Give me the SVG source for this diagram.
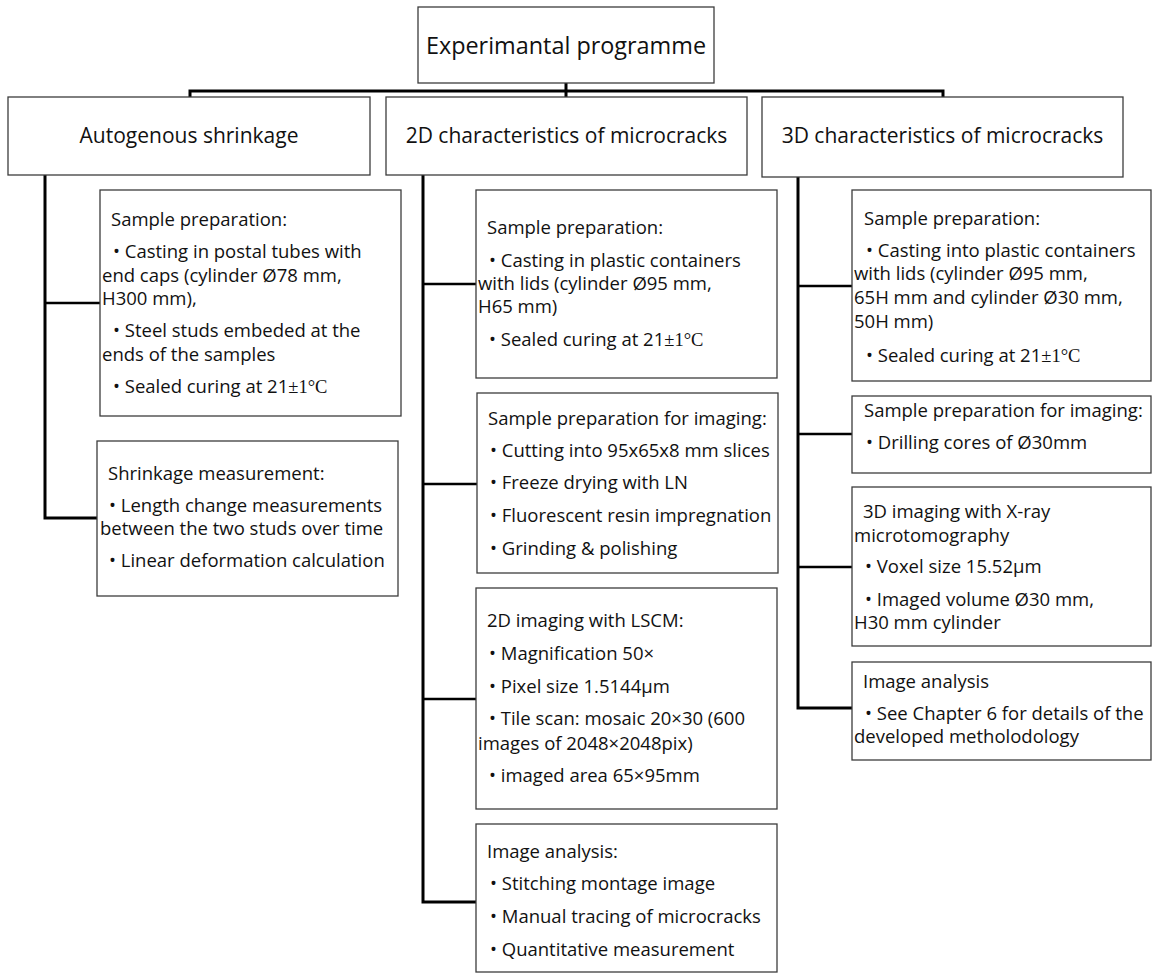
<svg xmlns="http://www.w3.org/2000/svg" width="1153" height="976" viewBox="0 0 1153 976">
<style>
.box{fill:#fff;stroke:#3c3c3c;stroke-width:1.3}
.t{font-family:"Open Sans","Liberation Sans",sans-serif;font-size:18.5px;fill:#111}
.h{font-family:"Open Sans","Liberation Sans",sans-serif;font-size:21px;fill:#111;text-anchor:middle}
.ti{font-family:"Open Sans","Liberation Sans",sans-serif;font-size:23.4px;fill:#111;text-anchor:middle}
.s{font-family:"Liberation Serif",serif}
.c{fill:none;stroke:#000;stroke-width:3}
.b{fill:none;stroke:#000;stroke-width:2.5}
</style>
<rect width="1153" height="976" fill="#fff"/>
<g id="connectors">
<path class="c" d="M566 83V97M190 97V91H943V97"/>
<path class="c" d="M45 175V518H97"/>
<path class="b" d="M45 303H100"/>
<path class="c" d="M423 175V902H476"/>
<path class="b" d="M423 284H476M423 484H477M423 699H476"/>
<path class="c" d="M798 177V708H852"/>
<path class="b" d="M798 286H852M798 434H852M798 567H852"/>
</g>
<g id="root"><rect class="box" x="418" y="7" width="296" height="76"/><text class="ti" x="566" y="54">Experimantal programme</text></g>
<g id="autogenous"><rect class="box" x="8" y="97" width="362" height="78"/><text class="h" x="189" y="143">Autogenous shrinkage</text></g>
<g id="char2d"><rect class="box" x="386" y="97" width="361" height="78"/><text class="h" x="566.5" y="143">2D characteristics of microcracks</text></g>
<g id="char3d"><rect class="box" x="762" y="97" width="361" height="80"/><text class="h" x="942.5" y="143">3D characteristics of microcracks</text></g>
<g id="a1"><rect class="box" x="100" y="190" width="301" height="226"/>
<text class="t" x="111" y="226">Sample preparation:</text>
<text class="t" x="113" y="258">• Casting in postal tubes with</text>
<text class="t" x="102" y="282">end caps (cylinder Ø78 mm,</text>
<text class="t" x="102" y="305">H300 mm),</text>
<text class="t" x="113" y="337">• Steel studs embeded at the</text>
<text class="t" x="102" y="361">ends of the samples</text>
<text class="t" x="113" y="393">• Sealed curing at 21<tspan class="s">±1°C</tspan></text>
</g>
<g id="a2"><rect class="box" x="97" y="441" width="301" height="155"/>
<text class="t" x="108" y="480">Shrinkage measurement:</text>
<text class="t" x="109" y="512">• Length change measurements</text>
<text class="t" x="100" y="535">between the two studs over time</text>
<text class="t" x="109" y="567">• Linear deformation calculation</text>
</g>
<g id="b1"><rect class="box" x="476" y="190" width="301" height="188"/>
<text class="t" x="487" y="234">Sample preparation:</text>
<text class="t" x="489" y="267">• Casting in plastic containers</text>
<text class="t" x="478" y="290">with lids (cylinder Ø95 mm,</text>
<text class="t" x="478" y="313">H65 mm)</text>
<text class="t" x="489" y="346">• Sealed curing at 21<tspan class="s">±1°C</tspan></text>
</g>
<g id="b2"><rect class="box" x="477" y="393" width="301" height="180"/>
<text class="t" x="488" y="425">Sample preparation for imaging:</text>
<text class="t" x="490" y="457">• Cutting into 95x65x8 mm slices</text>
<text class="t" x="490" y="489">• Freeze drying with LN</text>
<text class="t" x="490" y="522">• Fluorescent resin impregnation</text>
<text class="t" x="490" y="555">• Grinding &amp; polishing</text>
</g>
<g id="b3"><rect class="box" x="476" y="588" width="301" height="221"/>
<text class="t" x="487" y="627">2D imaging with LSCM:</text>
<text class="t" x="489" y="660">• Magnification 50×</text>
<text class="t" x="489" y="693">• Pixel size 1.5144µm</text>
<text class="t" x="489" y="725">• Tile scan: mosaic 20×30 (600</text>
<text class="t" x="478" y="750">images of 2048×2048pix)</text>
<text class="t" x="489" y="782">• imaged area 65×95mm</text>
</g>
<g id="b4"><rect class="box" x="476" y="824" width="301" height="148"/>
<text class="t" x="487" y="858">Image analysis:</text>
<text class="t" x="490" y="890">• Stitching montage image</text>
<text class="t" x="490" y="923">• Manual tracing of microcracks</text>
<text class="t" x="490" y="956">• Quantitative measurement</text>
</g>
<g id="c1"><rect class="box" x="852" y="190" width="299" height="191"/>
<text class="t" x="864" y="225">Sample preparation:</text>
<text class="t" x="866" y="257">• Casting into plastic containers</text>
<text class="t" x="854" y="280">with lids (cylinder Ø95 mm,</text>
<text class="t" x="854" y="304">65H mm and cylinder Ø30 mm,</text>
<text class="t" x="854" y="328">50H mm)</text>
<text class="t" x="866" y="362">• Sealed curing at 21<tspan class="s">±1°C</tspan></text>
</g>
<g id="c2"><rect class="box" x="852" y="396" width="299" height="77"/>
<text class="t" x="864" y="417">Sample preparation for imaging:</text>
<text class="t" x="866" y="449">• Drilling cores of Ø30mm</text>
</g>
<g id="c3"><rect class="box" x="852" y="487" width="299" height="159"/>
<text class="t" x="863" y="518">3D imaging with X-ray</text>
<text class="t" x="854" y="542">microtomography</text>
<text class="t" x="865" y="573">• Voxel size 15.52µm</text>
<text class="t" x="865" y="606">• Imaged volume Ø30 mm,</text>
<text class="t" x="854" y="629">H30 mm cylinder</text>
</g>
<g id="c4"><rect class="box" x="852" y="662" width="299" height="98"/>
<text class="t" x="863" y="688">Image analysis</text>
<text class="t" x="865" y="720">• See Chapter 6 for details of the</text>
<text class="t" x="854" y="743">developed metholodology</text>
</g>
</svg>
